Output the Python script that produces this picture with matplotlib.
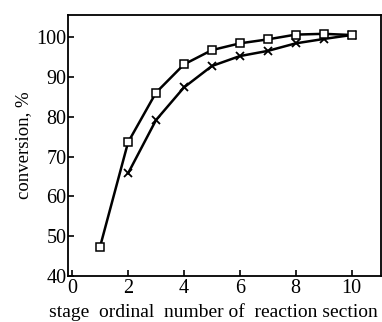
import matplotlib
matplotlib.use("Agg")
import matplotlib.pyplot as plt

stages_sq = [1, 2, 3, 4, 5, 6, 7, 8, 9, 10]
conv_sq = [47.4, 73.6, 86.1, 93.2, 96.8, 98.5, 99.5, 100.7, 100.9, 100.6]
stages_x = [2, 3, 4, 5, 6, 7, 8, 9, 10]
conv_x = [65.8, 79.2, 87.4, 92.8, 95.3, 96.6, 98.5, 99.6, 100.6]
xticks = [0, 2, 4, 6, 8, 10]
yticks = [40, 50, 60, 70, 80, 90, 100]

plt.rcParams['font.family'] = ['Liberation Serif', 'DejaVu Serif']
fig = plt.figure(figsize=(3.82, 3.22), dpi=100)
ax = fig.add_axes([0.178, 0.143, 0.819, 0.81])

ax.plot(stages_x, conv_x, color='black', lw=1.8, marker='x', ms=5.5, mew=1.3,
        zorder=3)
ax.plot(stages_sq, conv_sq, color='black', lw=1.8, marker='s', ms=5.5, mew=1.1,
        mfc='white', mec='black', zorder=4)

ax.set_xlim(-0.15, 11.05)
ax.set_ylim(40, 105.6)
ax.set_xticks(xticks)
ax.set_yticks(yticks)
ax.tick_params(direction='in', length=4, width=1.2, labelsize=14.5, pad=1)
ax.tick_params(axis='x', pad=2)
for s in ax.spines.values():
    s.set_linewidth(1.3)

ax.set_ylabel('conversion, %', fontsize=13.5, labelpad=3)
ax.set_xlabel('stage  ordinal  number of  reaction section', fontsize=14,
              ha='left')
ax.xaxis.set_label_coords(-0.06, -0.105)

fig.savefig('out.png', dpi=100)
